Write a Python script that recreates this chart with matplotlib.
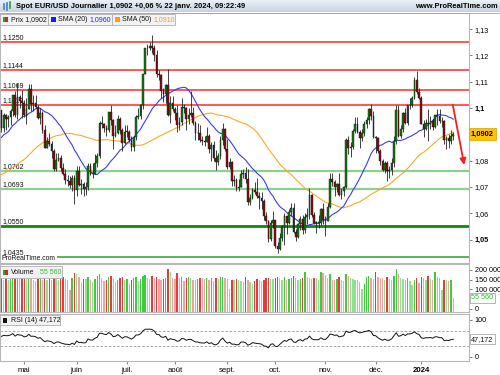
import numpy as np
import pandas as pd
import matplotlib
matplotlib.use('Agg')
import matplotlib.pyplot as plt
from matplotlib.patches import Rectangle
from matplotlib.lines import Line2D
from matplotlib.transforms import blended_transform_factory

plt.rcParams['font.family'] = ['Liberation Sans', 'DejaVu Sans']

# ---------------- data ----------------
trading_days = pd.bdate_range('2023-04-17', '2024-01-22').drop(
    pd.to_datetime(['2023-12-25', '2024-01-01']))

month_names = {5: 'mai', 6: 'juin', 7: 'juil.', 8: 'août', 9: 'sept.',
               10: 'oct.', 11: 'nov.', 12: 'déc.', 1: '2024'}

# closes before the visible window (for SMA / RSI warm-up)
prior_closes = [
    1.0727, 1.0713, 1.0740, 1.0680, 1.0722, 1.0737, 1.0685, 1.0673, 1.0695, 1.0688,
    1.0650, 1.0605, 1.0595, 1.0545, 1.0610, 1.0575,
    1.0668, 1.0598, 1.0635, 1.0682, 1.0548, 1.0545, 1.0583, 1.0640, 1.0730, 1.0735,
    1.0575, 1.0610, 1.0670, 1.0720, 1.0770, 1.0855, 1.0832, 1.0760, 1.0800, 1.0845,
    1.0845, 1.0905, 1.0840,
    1.0902, 1.0955, 1.0905, 1.0920, 1.0905, 1.0860, 1.0912, 1.0990, 1.1045, 1.0993]

opens = [
    # Apr
    1.0993, 1.0925, 1.0972, 1.0960, 1.0965, 1.0990, 1.1048, 1.0975, 1.1042, 1.1028,
    # May
    1.1020, 1.0975, 1.0995, 1.1073, 1.1015, 1.1020, 1.1006, 1.0962, 1.0982, 1.0915,
    1.0850, 1.0873, 1.0862, 1.0838, 1.0770, 1.0803, 1.0812, 1.0773, 1.0750, 1.0725,
    1.0722, 1.0707, 1.0735,
    # Jun
    1.0690, 1.0762, 1.0708, 1.0712, 1.0693, 1.0700, 1.0780, 1.0750, 1.0750, 1.0792,
    1.0818, 1.0945, 1.0940, 1.0923, 1.0915, 1.0985, 1.0955, 1.0895, 1.0905, 1.0960,
    1.0915, 1.0867,
    # Jul
    1.0910, 1.0910, 1.0880, 1.0852, 1.0890, 1.0968, 1.0970, 1.1010, 1.1130, 1.1227,
    1.1230, 1.1237, 1.1230, 1.1200, 1.1130, 1.1125, 1.1065, 1.1055, 1.1087, 1.0973,
    1.1018,
    # Aug
    1.0998, 1.0983, 1.0935, 1.0946, 1.1005, 1.1000, 1.0957, 1.0975, 1.0980, 1.0945,
    1.0905, 1.0905, 1.0880, 1.0875, 1.0872, 1.0893, 1.0845, 1.0860, 1.0810, 1.0795,
    1.0817, 1.0880, 1.0920,
    # Sep
    1.0843, 1.0775, 1.0795, 1.0723, 1.0725, 1.0697, 1.0700, 1.0750, 1.0752, 1.0730,
    1.0643, 1.0660, 1.0690, 1.0680, 1.0665, 1.0660, 1.0645, 1.0590, 1.0570, 1.0503,
    1.0565,
    # Oct
    1.0573, 1.0475, 1.0465, 1.0505, 1.0548, 1.0588, 1.0563, 1.0605, 1.0620, 1.0528,
    1.0510, 1.0560, 1.0577, 1.0535, 1.0585, 1.0593, 1.0670, 1.0593, 1.0565, 1.0565,
    1.0565, 1.0615,
    # Nov
    1.0575, 1.0570, 1.0625, 1.0730, 1.0720, 1.0700, 1.0710, 1.0668, 1.0685, 1.0700,
    1.0880, 1.0850, 1.0852, 1.0912, 1.0940, 1.0910, 1.0888, 1.0905, 1.0940, 1.0955,
    1.0995, 1.0970,
    # Dec
    1.0890, 1.0885, 1.0837, 1.0797, 1.0765, 1.0793, 1.0760, 1.0763, 1.0793, 1.0875,
    1.0993, 1.0895, 1.0920, 1.0980, 1.0942, 1.1010, 1.1010, 1.1040, 1.1105, 1.1060,
    # Jan
    1.1040, 1.0940, 1.0920, 1.0945, 1.0940, 1.0950, 1.0930, 1.0972, 1.0970, 1.0950,
    1.0950, 1.0878, 1.0885, 1.0875, 1.0895]

highs = [
    1.0994, 1.0980, 1.0978, 1.0973, 1.0998, 1.1050, 1.1066, 1.1095, 1.1050, 1.1070,
    1.1030, 1.1040, 1.1090, 1.1092, 1.1050, 1.1050, 1.1010, 1.1000, 1.0990, 1.0935,
    1.0890, 1.0905, 1.0875, 1.0845, 1.0830, 1.0830, 1.0820, 1.0790, 1.0770, 1.0745,
    1.0740, 1.0745, 1.0745,
    1.0780, 1.0780, 1.0730, 1.0720, 1.0718, 1.0790, 1.0790, 1.0790, 1.0825, 1.0830,
    1.0950, 1.0970, 1.0945, 1.0935, 1.0985, 1.1012, 1.0960, 1.0935, 1.0975, 1.0965,
    1.0925, 1.0935,
    1.0935, 1.0915, 1.0895, 1.0895, 1.0975, 1.1000, 1.1015, 1.1130, 1.1230, 1.1245,
    1.1250, 1.1276, 1.1240, 1.1220, 1.1145, 1.1130, 1.1075, 1.1090, 1.1150, 1.1045,
    1.1045,
    1.1005, 1.1010, 1.0965, 1.1040, 1.1015, 1.1005, 1.1000, 1.1065, 1.1005, 1.0950,
    1.0945, 1.0935, 1.0895, 1.0895, 1.0930, 1.0900, 1.0870, 1.0875, 1.0840, 1.0830,
    1.0895, 1.0945, 1.0925,
    1.0882, 1.0810, 1.0800, 1.0745, 1.0735, 1.0730, 1.0765, 1.0770, 1.0775, 1.0770,
    1.0675, 1.0695, 1.0720, 1.0735, 1.0680, 1.0680, 1.0655, 1.0605, 1.0575, 1.0575,
    1.0610,
    1.0575, 1.0490, 1.0525, 1.0555, 1.0600, 1.0590, 1.0615, 1.0640, 1.0640, 1.0540,
    1.0565, 1.0590, 1.0595, 1.0600, 1.0620, 1.0695, 1.0675, 1.0605, 1.0570, 1.0595,
    1.0620, 1.0640,
    1.0590, 1.0640, 1.0755, 1.0755, 1.0725, 1.0715, 1.0755, 1.0695, 1.0705, 1.0888,
    1.0895, 1.0870, 1.0920, 1.0965, 1.0965, 1.0915, 1.0920, 1.0950, 1.0965, 1.1000,
    1.1017, 1.0990,
    1.0895, 1.0890, 1.0845, 1.0805, 1.0800, 1.0800, 1.0780, 1.0810, 1.0895, 1.1010,
    1.1010, 1.0935, 1.0985, 1.1000, 1.1010, 1.1040, 1.1045, 1.1120, 1.1140, 1.1075,
    1.1045, 1.0955, 1.0960, 1.0995, 1.0970, 1.0960, 1.0975, 1.0995, 1.0995, 1.0965,
    1.0955, 1.0895, 1.0900, 1.0915, 1.0910]

lows = [
    1.0910, 1.0910, 1.0915, 1.0930, 1.0935, 1.0970, 1.0966, 1.0960, 1.1000, 1.0961,
    1.0965, 1.0940, 1.0995, 1.0990, 1.0990, 1.1000, 1.0960, 1.0940, 1.0905, 1.0850,
    1.0850, 1.0855, 1.0810, 1.0760, 1.0760, 1.0800, 1.0760, 1.0745, 1.0710, 1.0705,
    1.0695, 1.0685, 1.0635,
    1.0665, 1.0705, 1.0675, 1.0665, 1.0670, 1.0690, 1.0745, 1.0735, 1.0750, 1.0775,
    1.0810, 1.0925, 1.0910, 1.0895, 1.0910, 1.0935, 1.0845, 1.0890, 1.0900, 1.0900,
    1.0835, 1.0865,
    1.0890, 1.0870, 1.0835, 1.0835, 1.0880, 1.0960, 1.0960, 1.0995, 1.1130, 1.1200,
    1.1220, 1.1210, 1.1180, 1.1120, 1.1105, 1.1040, 1.1025, 1.1020, 1.0970, 1.0945,
    1.0990,
    1.0955, 1.0910, 1.0915, 1.0935, 1.0980, 1.0915, 1.0940, 1.0965, 1.0935, 1.0880,
    1.0880, 1.0870, 1.0860, 1.0855, 1.0870, 1.0830, 1.0800, 1.0800, 1.0765, 1.0785,
    1.0805, 1.0860, 1.0835,
    1.0770, 1.0770, 1.0705, 1.0705, 1.0685, 1.0685, 1.0700, 1.0735, 1.0715, 1.0630,
    1.0630, 1.0655, 1.0675, 1.0660, 1.0615, 1.0615, 1.0575, 1.0560, 1.0490, 1.0495,
    1.0545,
    1.0470, 1.0448, 1.0460, 1.0495, 1.0480, 1.0520, 1.0560, 1.0590, 1.0525, 1.0495,
    1.0505, 1.0535, 1.0520, 1.0525, 1.0560, 1.0580, 1.0585, 1.0560, 1.0525, 1.0545,
    1.0555, 1.0560,
    1.0515, 1.0570, 1.0620, 1.0705, 1.0665, 1.0680, 1.0665, 1.0655, 1.0665, 1.0695,
    1.0825, 1.0815, 1.0845, 1.0905, 1.0905, 1.0850, 1.0875, 1.0895, 1.0925, 1.0940,
    1.0955, 1.0885,
    1.0830, 1.0830, 1.0785, 1.0760, 1.0755, 1.0723, 1.0735, 1.0745, 1.0775, 1.0865,
    1.0890, 1.0885, 1.0910, 1.0940, 1.0935, 1.0995, 1.1005, 1.1035, 1.1055, 1.1035,
    1.0940, 1.0890, 1.0915, 1.0875, 1.0920, 1.0915, 1.0925, 1.0935, 1.0945, 1.0930,
    1.0865, 1.0845, 1.0850, 1.0865, 1.0880]

closes = [
    1.0925, 1.0972, 1.0960, 1.0965, 1.0990, 1.1048, 1.0975, 1.1042, 1.1028, 1.1020,
    1.0975, 1.0995, 1.1073, 1.1015, 1.1020, 1.1006, 1.0962, 1.0982, 1.0915, 1.0850,
    1.0873, 1.0862, 1.0838, 1.0770, 1.0803, 1.0812, 1.0773, 1.0750, 1.0725, 1.0722,
    1.0707, 1.0735, 1.0690,
    1.0762, 1.0708, 1.0712, 1.0693, 1.0700, 1.0780, 1.0750, 1.0750, 1.0792, 1.0818,
    1.0945, 1.0940, 1.0923, 1.0915, 1.0985, 1.0955, 1.0895, 1.0905, 1.0960, 1.0915,
    1.0867, 1.0910,
    1.0910, 1.0880, 1.0852, 1.0890, 1.0968, 1.0970, 1.1010, 1.1130, 1.1227, 1.1230,
    1.1237, 1.1230, 1.1200, 1.1130, 1.1125, 1.1065, 1.1055, 1.1087, 1.0973, 1.1018,
    1.0998,
    1.0983, 1.0935, 1.0946, 1.1005, 1.1000, 1.0957, 1.0975, 1.0980, 1.0945, 1.0905,
    1.0905, 1.0880, 1.0875, 1.0872, 1.0893, 1.0845, 1.0860, 1.0810, 1.0795, 1.0817,
    1.0880, 1.0920, 1.0843,
    1.0775, 1.0795, 1.0723, 1.0725, 1.0697, 1.0700, 1.0750, 1.0752, 1.0730, 1.0643,
    1.0660, 1.0690, 1.0680, 1.0665, 1.0660, 1.0645, 1.0590, 1.0570, 1.0503, 1.0565,
    1.0573,
    1.0475, 1.0465, 1.0505, 1.0548, 1.0588, 1.0563, 1.0605, 1.0620, 1.0528, 1.0510,
    1.0560, 1.0577, 1.0535, 1.0585, 1.0593, 1.0670, 1.0593, 1.0565, 1.0565, 1.0565,
    1.0615, 1.0575,
    1.0570, 1.0625, 1.0730, 1.0720, 1.0700, 1.0710, 1.0668, 1.0685, 1.0700, 1.0880,
    1.0850, 1.0852, 1.0912, 1.0940, 1.0910, 1.0888, 1.0905, 1.0940, 1.0955, 1.0995,
    1.0970, 1.0890,
    1.0885, 1.0837, 1.0797, 1.0765, 1.0793, 1.0760, 1.0763, 1.0793, 1.0875, 1.0993,
    1.0895, 1.0920, 1.0980, 1.0942, 1.1010, 1.1010, 1.1040, 1.1105, 1.1060, 1.1040,
    1.0940, 1.0920, 1.0945, 1.0940, 1.0950, 1.0930, 1.0972, 1.0970, 1.0950, 1.0950,
    1.0878, 1.0885, 1.0875, 1.0895, 1.0902]

volumes = [
    158000, 150000, 155000, 147000, 152000, 160000, 168000, 172000, 165000, 170000,
    185000, 160000, 175000, 168000, 150000, 145000, 155000, 160000, 150000, 162000,
    148000, 155000, 150000, 163000, 152000, 150000, 158000, 162000, 155000, 150000,
    96000, 158000, 183000,
    178000, 165000, 140000, 155000, 152000, 162000, 148000, 140000, 155000, 168000,
    178000, 160000, 145000, 150000, 165000, 170000, 155000, 140000, 148000, 158000,
    162000, 150000,
    155000, 125000, 150000, 160000, 165000, 145000, 155000, 168000, 175000, 160000,
    155000, 170000, 160000, 163000, 155000, 148000, 152000, 160000, 205000, 190000,
    160000,
    155000, 183000, 160000, 165000, 145000, 158000, 162000, 160000, 150000, 148000,
    155000, 160000, 158000, 152000, 160000, 150000, 158000, 145000, 160000, 155000,
    162000, 165000, 158000,
    155000, 100000, 150000, 148000, 155000, 150000, 145000, 138000, 162000, 150000,
    140000, 125000, 142000, 155000, 150000, 145000, 148000, 158000, 160000, 155000,
    152000,
    160000, 165000, 158000, 150000, 162000, 148000, 155000, 160000, 168000, 158000,
    150000, 155000, 160000, 190000, 165000, 160000, 155000, 160000, 158000, 150000,
    190000, 185000,
    175000, 160000, 178000, 150000, 148000, 155000, 165000, 150000, 145000, 180000,
    168000, 160000, 155000, 150000, 148000, 140000, 103000, 125000, 165000, 170000,
    160000, 155000,
    190000, 165000, 160000, 158000, 150000, 165000, 155000, 150000, 170000, 205000,
    180000, 160000, 155000, 150000, 158000, 145000, 120000, 148000, 160000, 135000,
    165000, 160000, 150000, 170000, 155000, 150000, 190000, 165000, 158000, 96000,
    150000, 148000, 145000, 150000, 55560]

resistance_levels = [1.1250, 1.1144, 1.1069, 1.1012]
support_levels = [1.0762, 1.0693, 1.0550, 1.0435]
price_ticks = [1.05, 1.06, 1.07, 1.08, 1.10, 1.11, 1.12, 1.13]
volume_ticks = [0, 100000, 150000, 200000]
rsi_ticks = [0, 100]
rsi_bands = [30, 70]
sma20_label, sma50_label, rsi_label = 1.0960, 1.0910, 47.172
arrow_start = (197.8, 1.1012)
arrow_end = (202.8, 1.0784)

assert len(opens) == len(highs) == len(lows) == len(closes) == len(volumes) == len(trading_days)

# ---------------- derived ----------------
n = len(closes)
x = np.arange(n)
o, h, l, c = map(np.array, (opens, highs, lows, closes))
all_c = pd.Series(prior_closes + closes)
sma20 = all_c.rolling(20).mean().values[-n:]
sma50 = all_c.rolling(50).mean().values[-n:]

d = np.diff(all_c.values)
g = np.clip(d, 0, None)
ls = np.clip(-d, 0, None)
ag, al = g[:14].mean(), ls[:14].mean()
rsi_all = [np.nan] * 15
for k in range(14, len(d)):
    ag = (ag * 13 + g[k]) / 14
    al = (al * 13 + ls[k]) / 14
    rsi_all.append(100 - 100 / (1 + ag / al))
rsi = np.array(rsi_all)[-n:]

fmt = lambda v, nd: f"{v:.{nd}f}".replace('.', ',')

# ---------------- figure ----------------
W, H = 500, 375
fig = plt.figure(figsize=(5, 3.75), dpi=100)
fig.patch.set_facecolor('white')
fx = lambda px: px / W
fy = lambda py: 1 - py / H

XL = (-0.61, 204.9)
GRID = '#b8b8b8'
FS_AX = 5.2
FS_LG = 5.0

ax = fig.add_axes([0, fy(263), fx(469), (263 - 13) / H])
axv = fig.add_axes([0, fy(312), fx(469), (312 - 264) / H])
axr = fig.add_axes([0, fy(361), fx(469), (361 - 314) / H])

for a in (ax, axv, axr):
    a.set_xlim(*XL)
    a.yaxis.tick_right()
    for s in a.spines.values():
        s.set_color(GRID)
        s.set_linewidth(0.8)
    a.tick_params(axis='y', direction='out', length=2.5, width=0.6, color='#666666',
                  labelsize=FS_AX, pad=1.5)
    a.tick_params(axis='x', bottom=False, labelbottom=False)

# ---- price panel ----
ax.set_ylim(1.04112, 1.13614)
for lv in resistance_levels:
    ax.axhline(lv, color='#ff2a2a', lw=1.1, zorder=1)
gstyles = [('#8fd08f', 1.6), ('#8fd08f', 1.6), ('#118811', 2.0), ('#2e9e2e', 1.1)]
for lv, (col, lw) in zip(support_levels, gstyles):
    ax.axhline(lv, color=col, lw=lw, zorder=1)
tr = blended_transform_factory(ax.transAxes, ax.transData)
for lv in resistance_levels + support_levels:
    ax.text(0.006, lv + 0.0004, fmt(lv, 4), transform=tr, fontsize=FS_LG,
            va='bottom', ha='left', color='#111111', zorder=2)

ax.plot(x, sma50, color='#ffa726', lw=0.8, zorder=3)
ax.plot(x, sma20, color='#3a3aff', lw=0.8, zorder=3)

up = c >= o
ax.vlines(x, l, h, color='#222222', lw=0.6, zorder=4)
body = np.maximum(np.abs(c - o), 0.00015)
ax.bar(x, body, bottom=np.minimum(o, c), width=0.75,
       color=np.where(up, '#127a12', '#8a0f0f'), edgecolor='#111111',
       linewidth=0.3, zorder=5)

ax.annotate('', xy=arrow_end, xytext=arrow_start,
            arrowprops=dict(arrowstyle='-|>', color='#ff1a1a', lw=1.3,
                            mutation_scale=9, shrinkA=0, shrinkB=0), zorder=6)

ax.set_yticks(price_ticks)
ax.set_yticklabels([fmt(v, 2).rstrip('0') if v in (1.10,) else fmt(v, 2) for v in price_ticks])
for lab, v in zip(ax.get_yticklabels(), price_ticks):
    if v in (1.10, 1.05):
        lab.set_fontweight('bold')
ax.text(1.004, closes[-1], fmt(closes[-1], 4),
        transform=blended_transform_factory(ax.transAxes, ax.transData),
        fontsize=5.4, fontweight='bold', va='center', ha='left', clip_on=False,
        bbox=dict(boxstyle='square,pad=0.3', fc='#ffc400', ec='#d9a000', lw=0.5),
        zorder=10)

ax.text(0.004, 0.003, 'ProRealTime.com', transform=ax.transAxes, fontsize=4.9,
        va='bottom', ha='left', color='#111111', zorder=7,
        bbox=dict(boxstyle='square,pad=0.1', fc='white', ec='none'))

# ---- volume panel ----
vmin = -17600
axv.set_ylim(vmin, 231000)
v = np.array(volumes, dtype=float)
lighter = np.r_[False, v[1:] < v[:-1]]
vcol = np.where(up, np.where(lighter, '#8fe08f', '#3ccc3c'),
                np.where(lighter, '#f2a0a0', '#e83a3a'))
axv.bar(x, v - vmin, bottom=vmin, width=0.6, color=vcol, zorder=3)
axv.set_yticks(volume_ticks)
axv.set_yticklabels([f"{t:,}".replace(',', ' ') for t in volume_ticks])
axv.text(1.005, volumes[-1], f"{volumes[-1]:,}".replace(',', ' '),
         transform=blended_transform_factory(axv.transAxes, axv.transData),
         fontsize=FS_AX, color='#33bb33', va='center', ha='left', clip_on=False,
         bbox=dict(boxstyle='square,pad=0.2', fc='white', ec='#999999', lw=0.5), zorder=10)

# ---- RSI panel ----
axr.set_ylim(-11.7, 116.3)
for b in rsi_bands:
    axr.axhline(b, color='#999999', lw=0.6, ls=(0, (3, 2)))
axr.plot(x, rsi, color='#111111', lw=0.7)
axr.set_yticks(rsi_ticks)
axr.set_yticklabels([str(t) for t in rsi_ticks])
axr.text(1.005, rsi_label, fmt(rsi_label, 3),
         transform=blended_transform_factory(axr.transAxes, axr.transData),
         fontsize=FS_AX, color='#111111', va='center', ha='left', clip_on=False,
         bbox=dict(boxstyle='square,pad=0.2', fc='white', ec='#999999', lw=0.5), zorder=10)

# month ticks
m_idx, m_lab = [], []
prev = None
for i, dday in enumerate(trading_days):
    if prev is not None and dday.month != prev:
        m_idx.append(i)
        m_lab.append(month_names[dday.month])
    prev = dday.month
axr.set_xticks(m_idx)
axr.set_xticklabels(m_lab)
axr.tick_params(axis='x', bottom=True, labelbottom=True, length=2, color='#888888',
                labelsize=5.6, pad=2)
for lab in axr.get_xticklabels():
    if lab.get_text() == '2024':
        lab.set_fontweight('bold')

# ---------------- title bar & legends ----------------
tb = fig.add_axes([0, fy(12.5), 1, 12.5 / H])
grad = np.linspace(0, 1, 20)[:, None]
tb.imshow(grad, aspect='auto', cmap=matplotlib.colors.LinearSegmentedColormap.from_list(
    'tb', ['#eef3f7', '#c6d4e0']), extent=(0, 1, 0, 1))
tb.set_axis_off()
fig.add_artist(Line2D([0, 1], [fy(12.5), fy(12.5)], color='#9aaaba', lw=0.6))
fig.text(fx(16), fy(6.8), 'Spot EUR/USD Journalier 1,0902 +0,06 % 22 janv. 2024, 09:22:49',
         fontsize=5.4, fontweight='bold', va='center', ha='left')
fig.text(fx(498), fy(6.8), 'www.ProRealTime.com', fontsize=5.4, fontweight='bold',
         va='center', ha='right')
# tiny icon
for xx, y0, y1, col in [(4, 9, 4, '#3a7fd0'), (7, 10, 3, '#3a7fd0'), (10, 8, 2, '#3a9a3a')]:
    fig.add_artist(Line2D([fx(xx), fx(xx)], [fy(y0), fy(y1)], color=col, lw=1.2))


def box(x0, y0, x1, y1, fc='#f2f2f2', ec='#b0b0b0'):
    fig.add_artist(Rectangle((fx(x0), fy(y1)), fx(x1) - fx(x0), fy(y0) - fy(y1),
                             fc=fc, ec=ec, lw=0.6, zorder=20))


def sq(x0, y0, cols):
    w = 5 / len(cols)
    for k, cc in enumerate(cols):
        fig.add_artist(Rectangle((fx(x0 + k * w), fy(y0 + 5)), fx(w), 5 / H,
                                 fc=cc, ec='none', zorder=21))


def t(xp, yp, s, col='#111111', **kw):
    fig.text(fx(xp), fy(yp), s, color=col, fontsize=FS_LG, va='center', ha='left',
             zorder=22, **kw)


box(0, 13.5, 48, 25)
box(48, 13.5, 112, 25)
box(112, 13.5, 175, 25)
sq(2.5, 16.8, ['#22aa22', '#dd2222'])
t(11, 19.3, 'Prix ' + fmt(closes[-1], 4))
sq(50.5, 16.8, ['#1a1aff'])
t(58, 19.3, 'SMA (20)')
t(89, 19.3, fmt(sma20_label, 4), col='#2222ff')
sq(114.5, 16.8, ['#ff9a1a'])
t(122, 19.3, 'SMA (50)')
t(153, 19.3, fmt(sma50_label, 4), col='#ff9a1a')

box(0, 266, 62, 278)
sq(2.5, 269.5, ['#22aa22', '#dd2222'])
t(11, 272, 'Volume')
t(40, 272, f"{volumes[-1]:,}".replace(',', ' '), col='#33bb33')

box(0, 315, 60, 325)
sq(2.5, 317.5, ['#111111'])
t(11, 320, 'RSI (14) ' + fmt(rsi_label, 3))

fig.savefig('out.png', dpi=100)
